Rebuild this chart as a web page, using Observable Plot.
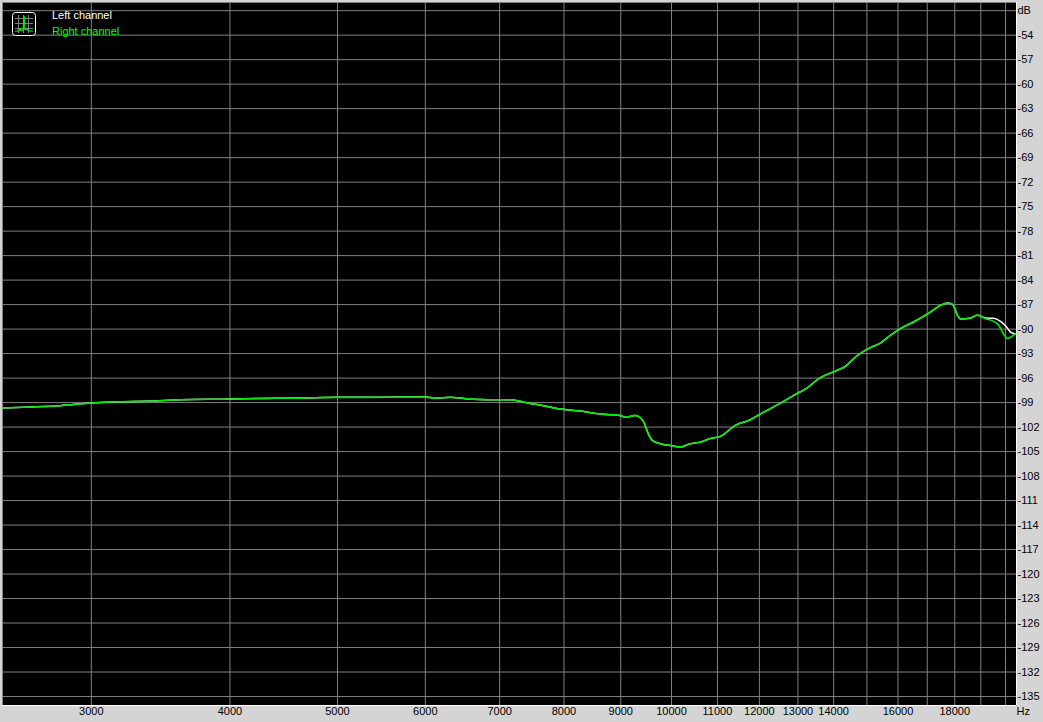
<!DOCTYPE html>
<html>
<head>
<meta charset="utf-8">
<script src="https://cdn.jsdelivr.net/npm/d3@7"></script>
<script src="https://cdn.jsdelivr.net/npm/@observablehq/plot@0.6"></script>
<style>
  html, body { margin: 0; padding: 0; background: #d4d4d4; }
  #wrap { position: relative; width: 1043px; height: 722px; }
  #legend { position: absolute; left: 12px; top: 9px; font-family: "Liberation Sans", Arial, sans-serif; font-size: 11px; }
  #legend .icon { position: absolute; left: 0; top: 3px; }
  #legend .t1 { position: absolute; left: 40px; top: 0px; color: #ffffff; white-space: nowrap; }
  #legend .t2 { position: absolute; left: 40px; top: 16px; color: #00ff00; white-space: nowrap; }
</style>
</head>
<body>
<div id="wrap">
  <div id="chart"></div>
  <div id="legend">
    <svg class="icon" width="24" height="24" viewBox="0 0 24 24">
      <rect x="0.5" y="0.5" width="23" height="23" rx="3" fill="#000" stroke="#fff" stroke-width="1"/>
      <g stroke="#808080" stroke-width="1">
        <line x1="3" y1="6.5" x2="21" y2="6.5"/><line x1="3" y1="11.5" x2="21" y2="11.5"/><line x1="3" y1="16.5" x2="21" y2="16.5"/>
        <line x1="6.5" y1="3" x2="6.5" y2="21"/><line x1="11.5" y1="3" x2="11.5" y2="21"/><line x1="16.5" y1="3" x2="16.5" y2="21"/>
      </g>
      <polyline points="3,19 7,19 8,16 9,19 11,18 12,4 13,18 15,17 16,19 21,19" fill="none" stroke="#00ff00" stroke-width="1"/>
    </svg>
    <span class="t1">Left channel</span>
    <span class="t2">Right channel</span>
  </div>
</div>
<script>
// Frequencies (Hz) shared by both channels
const freqCommon = [2500, 2641, 2811, 3000, 3184, 3389, 3607, 4000, 4259, 4628, 5000, 5351, 5695, 6000, 6124, 6317, 6517, 6864, 7155, 7305, 7459, 7615, 7938, 8274, 8625, 8990, 9084, 9275, 9430, 9529, 9608, 9769, 9974, 10183, 10397, 10615, 10837, 11064, 11415, 11776, 12023, 12275, 12585, 12930, 13201, 13618, 14050, 14345, 14645, 15109, 15426, 15749, 16080, 16589, 17114, 17474, 17729, 17915, 18101, 18215, 18597, 18869];
// Level (dB) shared by both channels
const dbCommon = [-99.67, -99.55, -99.38, -99.06, -98.89, -98.82, -98.65, -98.57, -98.49, -98.45, -98.36, -98.36, -98.33, -98.33, -98.45, -98.36, -98.52, -98.65, -98.65, -98.85, -99.10, -99.31, -99.80, -100.04, -100.41, -100.57, -100.81, -100.57, -101.27, -102.81, -103.63, -104.04, -104.25, -104.45, -104.04, -103.84, -103.39, -103.14, -101.79, -101.10, -100.40, -99.75, -98.95, -98.00, -97.35, -95.95, -95.14, -94.56, -93.42, -92.27, -91.71, -90.77, -89.94, -89.01, -87.91, -87.09, -86.81, -86.97, -88.31, -88.77, -88.64, -88.31];
// High-frequency tail where channels differ
const freqLeftTail = [19186, 19507, 19793, 20000, 20209, 20419];
const dbLeftTail = [-88.64, -88.68, -89.05, -89.60, -90.36, -90.60];
const freqRightTail = [19186, 19507, 19711, 19917, 20083, 20209, 20419];
const dbRightTail = [-88.72, -89.05, -89.50, -90.60, -91.15, -91.00, -90.56];

// Axis / grid values
const gridFreqs = [3000, 4000, 5000, 6000, 7000, 8000, 9000, 10000, 11000, 12000, 13000, 14000, 15000, 16000, 17000, 18000, 19000, 20000];
const xTickLabels = [3000, 4000, 5000, 6000, 7000, 8000, 9000, 10000, 11000, 12000, 13000, 14000, 16000, 18000];
const gridDb = [-51, -54, -57, -60, -63, -66, -69, -72, -75, -78, -81, -84, -87, -90, -93, -96, -99, -102, -105, -108, -111, -114, -117, -120, -123, -126, -129, -132, -135];
const xDomain = [2495, 20460];
const yDomain = [-136.1, -50];

const left = freqCommon.map((f, i) => ({f, db: dbCommon[i]})).concat(freqLeftTail.map((f, i) => ({f, db: dbLeftTail[i]})));
const right = freqCommon.map((f, i) => ({f, db: dbCommon[i]})).concat(freqRightTail.map((f, i) => ({f, db: dbRightTail[i]})));

const chart = Plot.plot({
  width: 1043,
  height: 722,
  marginLeft: 2,
  marginTop: 2,
  marginRight: 27,
  marginBottom: 17,
  style: {background: "#d4d4d4", color: "#000", fontFamily: "Liberation Sans, Arial, sans-serif", fontSize: "11px"},
  x: {type: "log", domain: xDomain, label: null},
  y: {domain: yDomain, label: null},
  marks: [
    Plot.frame({fill: "#000", stroke: null}),
    Plot.gridX(gridFreqs, {stroke: "#808080", strokeOpacity: 1, strokeWidth: 1}),
    Plot.gridY(gridDb, {stroke: "#808080", strokeOpacity: 1, strokeWidth: 1}),
    Plot.ruleY([yDomain[1]], {stroke: "#808080"}),
    Plot.ruleX([xDomain[0]], {stroke: "#808080"}),
    Plot.ruleY([yDomain[0]], {stroke: "#ffffff"}),
    Plot.ruleX([xDomain[1]], {stroke: "#ffffff"}),
    Plot.line(left, {x: "f", y: "db", stroke: "#ffffff", strokeWidth: 1.5, curve: "monotone-x"}),
    Plot.line(right, {x: "f", y: "db", stroke: "#00e600", strokeWidth: 1.6, curve: "monotone-x"}),
    Plot.axisX(xTickLabels, {anchor: "bottom", tickSize: 0, tickPadding: 2, tickFormat: d => String(d), label: null}),
    Plot.axisY(gridDb, {anchor: "right", tickSize: 0, tickPadding: 1, textAnchor: "start", tickFormat: d => d === -51 ? "dB" : String(d), label: null}),
    Plot.text(["Hz"], {frameAnchor: "bottom-right", textAnchor: "start", lineAnchor: "top", dy: 2, dx: 0, fill: "#000"})
  ]
});
document.getElementById("chart").appendChild(chart);
</script>
</body>
</html>
